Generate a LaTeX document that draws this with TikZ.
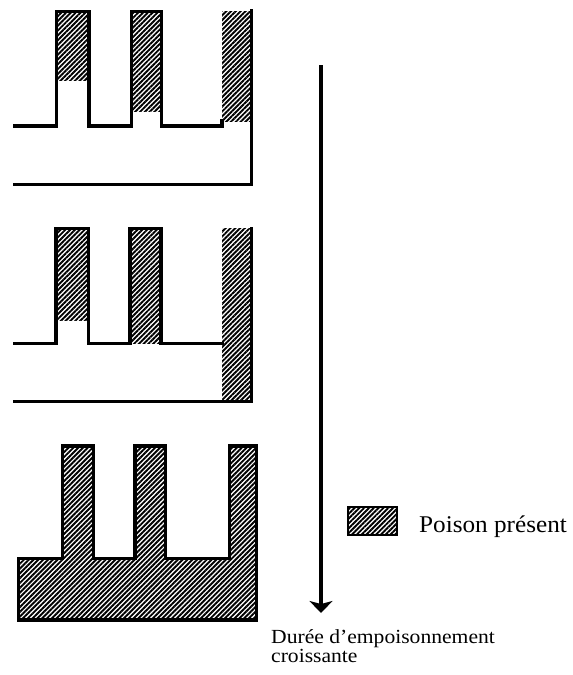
\documentclass[tikz,border=0pt]{standalone}
\usepackage{fontspec}
\usetikzlibrary{patterns.meta,arrows.meta}
\newfontfamily\labfont[FakeStretch=1.08]{Liberation Serif}
\newfontfamily\legfont[FakeStretch=1.05]{Liberation Serif}
\tikzset{
  wall/.style={line width=3.5pt, line join=miter, line cap=rect},
  poison/.style={pattern={Lines[angle=45,distance=3.4pt,line width=1.9pt]}, pattern color=black},
  arrowline/.style={line width=3.2pt, -{Stealth[width=23pt,length=12pt,inset=3pt]}},
  bottomtext/.style={anchor=base west, inner sep=0pt, font=\labfont\fontsize{20pt}{20pt}\selectfont},
  legendtext/.style={anchor=base west, inner sep=0pt, font=\legfont\fontsize{24pt}{24pt}\selectfont},
}
\begin{document}
\begin{tikzpicture}[x=1pt,y=-1pt]
\useasboundingbox[fill=white] (0,0) rectangle (573,675);

% ---- diagram 1 ----
\fill[poison] (56.7,11.7) rectangle (89,80);
\fill[poison] (131.7,11.7) rectangle (161.7,111);
\fill[poison] (222,11) rectangle (251.7,121);
\draw[wall] (15,126) -- (56.7,126) -- (56.7,11.7) -- (89,11.7) -- (89,126)
  -- (131.7,126) -- (131.7,11.7) -- (161.7,11.7) -- (161.7,126) -- (222,126) -- (222,121);
\draw[wall] (251.7,11) -- (251.7,184.3) -- (15,184.3);

% ---- diagram 2 ----
\fill[poison] (56,228.3) rectangle (88.7,320);
\fill[poison] (130,228.3) rectangle (161,343.3);
\fill[poison] (222,228.3) rectangle (251.7,401.7);
\draw[wall] (15,343.3) -- (56,343.3) -- (56,228.3) -- (88.7,228.3) -- (88.7,343.3)
  -- (130,343.3) -- (130,228.3) -- (161,228.3) -- (161,343.3) -- (222,343.3);
\draw[wall] (251.7,228.3) -- (251.7,401.7) -- (15,401.7);

% ---- diagram 3 ----
\filldraw[wall, poison] (18.3,558.3) -- (62.7,558.3) -- (62.7,446) -- (93.3,446) -- (93.3,558.3)
  -- (135,558.3) -- (135,446) -- (165.3,446) -- (165.3,558.3) -- (229.3,558.3)
  -- (229.3,446) -- (256.7,446) -- (256.7,620) -- (18.3,620) -- cycle;

% ---- arrow ----
\coordinate (atop) at (321,65);
\coordinate (abot) at (321,613);
\draw[arrowline] (atop) -- (abot);
\node[bottomtext] (dur1) at (271,643) {Durée d’empoisonnement};
\node[bottomtext] (dur2) at (271,662) {croissante};

% ---- legend ----
\filldraw[poison, line width=2pt] (348,507) rectangle (397,535);
\node[legendtext] (leg) at (419,532) {Poison présent};
\end{tikzpicture}
\end{document}
